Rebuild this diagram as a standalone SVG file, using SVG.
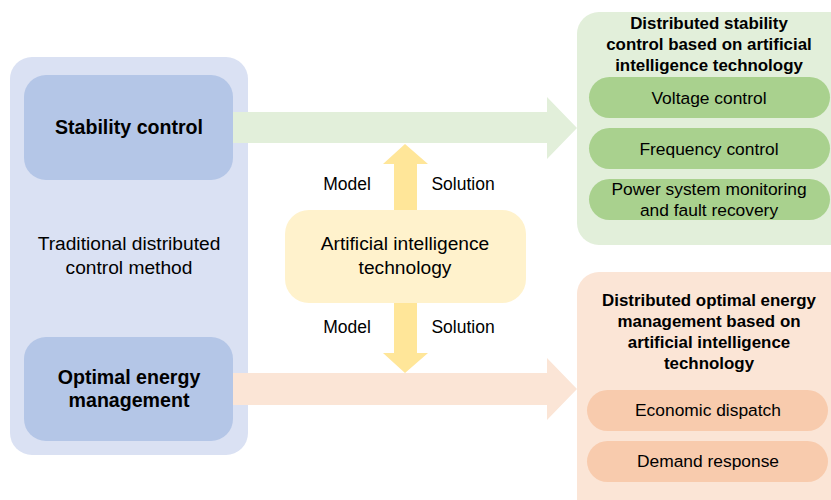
<svg xmlns="http://www.w3.org/2000/svg" width="831" height="500" viewBox="0 0 831 500">
<style>
text{font-family:"Liberation Sans",Arial,sans-serif;fill:#000;text-anchor:middle}
.n{font-size:19.2px}
.b{font-size:19.6px;font-weight:bold}
.t{font-size:16.9px;font-weight:bold}
.s{font-size:17.5px}
.p{font-size:17.4px}
</style>
<rect x="0" y="0" width="831" height="500" fill="#fff"/>
<g id="traditional">
<rect x="10" y="57" width="238" height="398" rx="22" fill="#DAE1F3"/>
<text class="n" x="129" y="250">Traditional distributed</text>
<text class="n" x="129" y="274">control method</text>
</g>
<g id="connectors">
<polygon points="233,112 547,112 547,97 577,128 547,159 547,143 233,143" fill="#E2EFDA"/>
<polygon points="233,373 547,373 547,358 577,389 547,420 547,405 233,405" fill="#FBE5D6"/>
<polygon points="394,210 394,164 383,164 405,144 428,164 417,164 417,210" fill="#FFE699"/>
<polygon points="394,303 394,353 383,353 405,373 428,353 417,353 417,303" fill="#FFE699"/>
<text class="s" x="347" y="190">Model</text>
<text class="s" x="463" y="190">Solution</text>
<text class="s" x="347" y="333">Model</text>
<text class="s" x="463" y="333">Solution</text>
</g>
<g id="stability">
<rect x="24" y="75" width="209" height="105" rx="22" fill="#B4C6E7"/>
<text class="b" x="129" y="134">Stability control</text>
</g>
<g id="optimal">
<rect x="24" y="337" width="209" height="104" rx="22" fill="#B4C6E7"/>
<text class="b" x="129" y="384">Optimal energy</text>
<text class="b" x="129" y="407">management</text>
</g>
<g id="ai">
<rect x="285" y="210" width="241" height="93" rx="24" fill="#FFF2CC"/>
<text class="n" x="405" y="250">Artificial intelligence</text>
<text class="n" x="405" y="274">technology</text>
</g>
<g id="dist-stability">
<rect x="577" y="12" width="280" height="233" rx="22" fill="#E2EFDA"/>
<text class="t" x="709" y="29">Distributed stability</text>
<text class="t" x="709" y="50">control based on artificial</text>
<text class="t" x="709" y="71">intelligence technology</text>
</g>
<g id="voltage">
<rect x="589" y="77" width="241" height="41" rx="20.5" fill="#A9D18E"/>
<text class="p" x="709" y="104">Voltage control</text>
</g>
<g id="frequency">
<rect x="589" y="128" width="241" height="41" rx="20.5" fill="#A9D18E"/>
<text class="p" x="709" y="155">Frequency control</text>
</g>
<g id="monitoring">
<rect x="589" y="179" width="241" height="41" rx="20.5" fill="#A9D18E"/>
<text class="p" x="709" y="195">Power system monitoring</text>
<text class="p" x="709" y="216">and fault recovery</text>
</g>
<g id="dist-energy">
<rect x="577" y="272" width="280" height="250" rx="22" fill="#FBE5D6"/>
<text class="t" x="709" y="306">Distributed optimal energy</text>
<text class="t" x="709" y="327">management based on</text>
<text class="t" x="709" y="348">artificial intelligence</text>
<text class="t" x="709" y="369">technology</text>
</g>
<g id="economic">
<rect x="587" y="390" width="241" height="41" rx="20.5" fill="#F8CBAD"/>
<text class="p" x="708" y="416">Economic dispatch</text>
</g>
<g id="demand">
<rect x="587" y="441" width="241" height="41" rx="20.5" fill="#F8CBAD"/>
<text class="p" x="708" y="467">Demand response</text>
</g>
</svg>
